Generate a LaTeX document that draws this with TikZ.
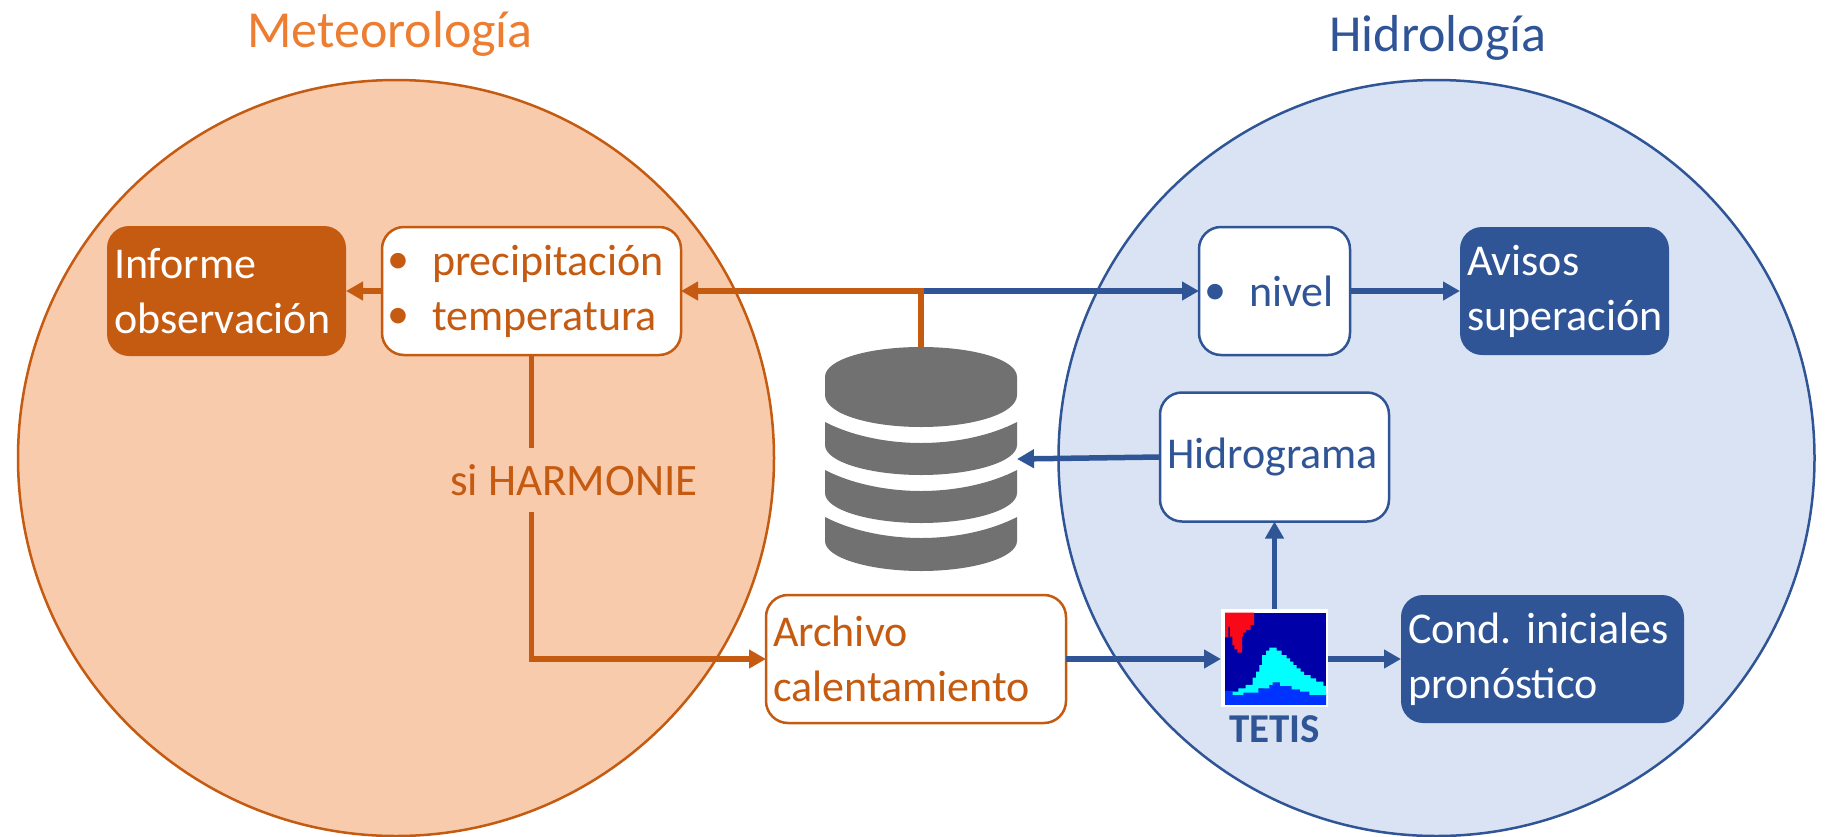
\documentclass[tikz,border=0pt]{standalone}
\usepackage{fontspec}
\setmainfont{Carlito}
\usetikzlibrary{arrows.meta}
\definecolor{orangeD}{HTML}{C55A11}
\definecolor{orangeT}{HTML}{ED7D31}
\definecolor{orangeF}{HTML}{F8CBAD}
\definecolor{blueD}{HTML}{2F5597}
\definecolor{blueF}{HTML}{DAE3F3}
\definecolor{dbgrey}{HTML}{717171}
\frenchspacing
\newcommand{\bul}{\makebox[43pt][l]{\hspace{-2pt}\raisebox{2pt}{•}}}
\tikzset{
  rbox/.style={draw=#1,line width=2.5pt,fill=white,text=#1,rounded corners=22pt,inner xsep=7pt,inner ysep=0pt,outer sep=0pt,align=left,font=\fontsize{44}{55}\selectfont},
  sbox/.style={fill=#1,text=white,rounded corners=22pt,inner xsep=7pt,inner ysep=0pt,outer sep=0pt,align=left,font=\fontsize{44}{55}\selectfont},
  orangeline/.style={draw=orangeD,line width=5.5pt},
  blueline/.style={draw=blueD,line width=5.5pt},
  tipped/.style={-{Triangle[length=17pt,width=18pt]}},
  circ/.style={circle,minimum size=756pt,inner sep=0pt,outer sep=0pt,line width=2.5pt},
  title/.style={font=\fontsize{52}{56}\selectfont,inner sep=0pt}
}
\begin{document}
\begin{tikzpicture}[x=1pt,y=-1pt]
\useasboundingbox (0,0) rectangle (1826,836);
\node[circ,draw=orangeD,fill=orangeF] (meteo) at (396,458) {};
\node[circ,draw=blueD,fill=blueF] (hidro) at (1436.5,458) {};
\node[title,text=orangeT] (tmeteo) at (390,34) {Meteorología};
\node[title,text=blueD] (thidro) at (1438,38) {Hidrología};
% boxes
\node[sbox=orangeD,minimum width=239pt,minimum height=130pt,text width=225pt] (informe) at (226.5,291) {Informe\\observación};
\node[rbox=orangeD,minimum width=299pt,minimum height=128pt,text width=285pt] (precip) at (531.5,291) {\bul precipitación\\\bul temperatura};
\node[rbox=blueD,minimum width=151pt,minimum height=128pt,text width=137pt] (nivel) at (1274.5,291) {\bul nivel};
\node[sbox=blueD,minimum width=209pt,minimum height=128pt,text width=195pt] (avisos) at (1564.5,291) {Avisos\\superación};
\node[rbox=blueD,minimum width=229pt,minimum height=129pt,text width=215pt] (hidrog) at (1274.5,457) {Hidrograma};
\node[sbox=blueD,minimum width=283pt,minimum height=128pt,text width=269pt] (cond) at (1542.5,659) {Cond. iniciales\\pronóstico};
\node[rbox=orangeD,minimum width=300pt,minimum height=128pt,text width=286pt] (archivo) at (916,659) {Archivo\\calentamiento};
\node[inner sep=0pt,outer sep=0pt,minimum height=64pt,text=orangeD,font=\fontsize{45}{54}\selectfont] (si) at (574,480) {si HARMONIE};
% database
\node[inner sep=0pt,outer sep=0pt,minimum width=192pt,minimum height=224pt] (db) at (921,459) {};
\fill[dbgrey] (825,377) .. controls (825,359) and (870,347) .. (921,347) .. controls (972,347) and (1017,359) .. (1017,377) -- (1017,395) .. controls (1017,414) and (972,427) .. (921,427) .. controls (870,427) and (825,414) .. (825,395) -- cycle;
\fill[dbgrey] (825,422) .. controls (850,435) and (885,443) .. (921,443) .. controls (957,443) and (992,435) .. (1017,422) -- (1017,445) .. controls (1017,462) and (972,475) .. (921,475) .. controls (870,475) and (825,462) .. (825,445) -- cycle;
\fill[dbgrey] (825,470) .. controls (850,483) and (885,491) .. (921,491) .. controls (957,491) and (992,483) .. (1017,470) -- (1017,493) .. controls (1017,510) and (972,523) .. (921,523) .. controls (870,523) and (825,510) .. (825,493) -- cycle;
\fill[dbgrey] (825,517) .. controls (850,530) and (885,538) .. (921,538) .. controls (957,538) and (992,530) .. (1017,517) -- (1017,541) .. controls (1017,558) and (972,571) .. (921,571) .. controls (870,571) and (825,558) .. (825,541) -- cycle;
% TETIS icon
\node[fill=white,inner sep=0pt,outer sep=0pt,minimum width=107pt,minimum height=98pt] (tetis) at (1274.5,658) {};
\begin{scope}[shift={(1180,580)},x=0.3333pt,y=-0.3333pt]
\fill[fill={rgb,255:red,0;green,0;blue,168}] (135,98) rectangle (438,375);
\fill[fill={rgb,255:red,248;green,8;blue,24}] (135,98) -- (222,98) -- (222,135) -- (212,135) -- (212,150) -- (198,150) -- (198,158) -- (190,158) -- (190,170) -- (186,170) -- (186,218) -- (172,218) -- (172,208) -- (163,208) -- (163,195) -- (157,195) -- (157,170) -- (150,170) -- (150,140) -- (145,140) -- (145,172) -- (135,172) -- cycle;
\fill[fill={rgb,255:red,0;green,51;blue,255}] (135,375) -- (135,333) -- (160,333) -- (160,340) -- (235,330) -- (270,320) -- (280,307) -- (300,307) -- (335,318) -- (388,335) -- (438,340) -- (438,375) -- cycle;
\fill[fill={rgb,255:red,0;green,255;blue,255}] (158,345) -- (158,335) -- (175,335) -- (175,325) -- (197,325) -- (197,315) -- (218,315) -- (218,293) -- (228,293) -- (228,275) -- (238,275) -- (238,255) -- (246,255) -- (246,225) -- (258,225) -- (258,212) -- (268,212) -- (268,203) -- (290,203) -- (290,212) -- (305,212) -- (305,225) -- (320,225) -- (320,235) -- (330,235) -- (330,245) -- (340,245) -- (340,255) -- (350,255) -- (350,265) -- (362,265) -- (362,275) -- (372,275) -- (372,285) -- (392,285) -- (392,295) -- (408,295) -- (408,305) -- (430,305) -- (430,318) -- (438,318) -- (438,345) -- (388,345) -- (388,335) -- (360,335) -- (360,328) -- (335,328) -- (335,318) -- (300,318) -- (300,307) -- (278,307) -- (278,315) -- (268,315) -- (268,325) -- (235,325) -- (235,338) -- (190,338) -- (190,345) -- cycle;
\end{scope}
\node[text=blueD,font=\fontsize{41}{44}\bfseries\selectfont,inner sep=0pt] (tetislabel) at (1274.5,729) {TETIS};
% connectors
\coordinate (junction) at (db.north |- precip.east);
\draw[blueline,tipped] (junction) -- (nivel.west);
\draw[orangeline,tipped] (db.north) -- (junction) -- (precip.east);
\draw[orangeline,tipped] (precip.west) -- (informe.east);
\draw[blueline,tipped] (nivel.east) -- (avisos.west);
\draw[blueline,tipped] (hidrog.west) -- (db.east);
\draw[blueline,tipped] (tetis.north) -- (hidrog.south);
\draw[blueline,tipped] (archivo.east) -- (archivo.east -| tetis.west);
\draw[blueline,tipped] (cond.west -| tetis.east) -- (cond.west);
\draw[orangeline] (precip.south) -- (precip.south |- si.north);
\draw[orangeline,tipped] (precip.south |- si.south) |- (archivo.west);
\end{tikzpicture}
\end{document}
